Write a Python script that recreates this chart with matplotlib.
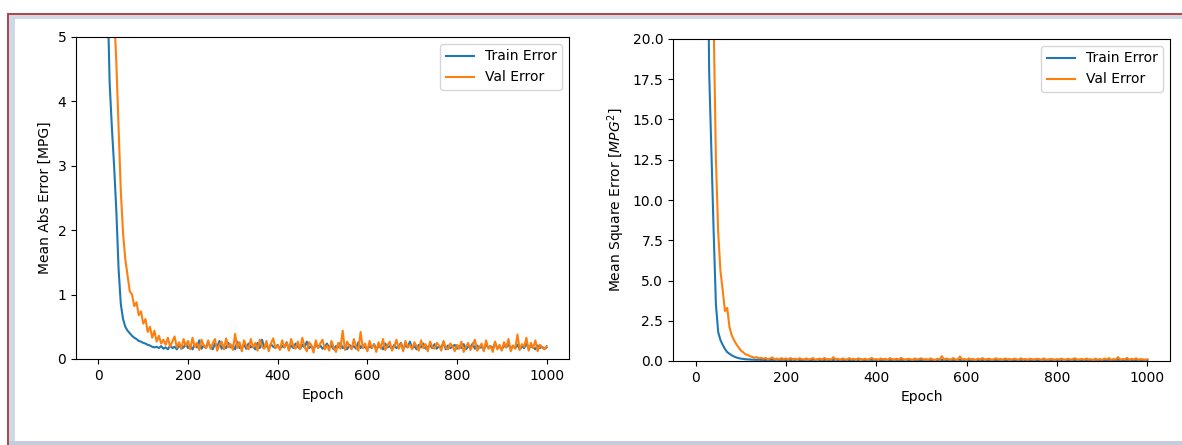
"""
Training history: mean abs error and mean square error per epoch
"""

import matplotlib
matplotlib.use('Agg')
import matplotlib.pyplot as plt
from matplotlib.patches import Rectangle

# epochs, sampled every 5
epochs = list(range(0, 1001, 5))

# mean abs error [MPG]
mae_train = [
    22.0, 19.0, 14.0, 9.5, 5.8, 4.3, 3.6, 3.0, 2.3, 1.4,
    0.85, 0.62, 0.50, 0.44, 0.40, 0.36, 0.33, 0.31, 0.28, 0.27,
    0.25, 0.24, 0.22, 0.21, 0.19, 0.18, 0.19, 0.17, 0.20, 0.16,
    0.18, 0.15, 0.21, 0.17, 0.19, 0.15, 0.22, 0.16, 0.18, 0.24,
    0.17, 0.20, 0.15, 0.23, 0.18, 0.29, 0.16, 0.21, 0.17, 0.26,
    0.19, 0.15, 0.24, 0.18, 0.28, 0.16, 0.20, 0.17, 0.25, 0.18,
    0.21, 0.15, 0.27, 0.17, 0.19, 0.22, 0.16, 0.24, 0.18, 0.20,
    0.15, 0.25, 0.17, 0.30, 0.18, 0.21, 0.16, 0.23, 0.19, 0.17,
    0.22, 0.16, 0.20, 0.18, 0.26, 0.15, 0.21, 0.17, 0.24, 0.19,
    0.16, 0.22, 0.18, 0.27, 0.17, 0.20, 0.15, 0.23, 0.18, 0.21,
    0.16, 0.19, 0.24, 0.17, 0.21, 0.15, 0.20, 0.18, 0.25, 0.17,
    0.19, 0.15, 0.22, 0.18, 0.20, 0.16, 0.26, 0.17, 0.21, 0.18,
    0.15, 0.20, 0.17, 0.23, 0.16, 0.19, 0.21, 0.15, 0.24, 0.18,
    0.20, 0.16, 0.22, 0.17, 0.19, 0.25, 0.16, 0.21, 0.18, 0.27,
    0.17, 0.20, 0.15, 0.22, 0.18, 0.24, 0.16, 0.19, 0.21, 0.17,
    0.23, 0.16, 0.20, 0.18, 0.26, 0.15, 0.21, 0.17, 0.19, 0.22,
    0.16, 0.20, 0.17, 0.23, 0.15, 0.19, 0.18, 0.24, 0.16, 0.21,
    0.17, 0.19, 0.15, 0.22, 0.18, 0.20, 0.16, 0.25, 0.17, 0.19,
    0.15, 0.21, 0.18, 0.23, 0.16, 0.20, 0.17, 0.22, 0.15, 0.19,
    0.17, 0.24, 0.16, 0.20, 0.18, 0.15, 0.21, 0.17, 0.19, 0.16, 0.18,
]
mae_val = [
    26.0, 23.0, 18.5, 14.0, 10.0, 8.0, 6.5, 5.4, 4.6, 3.6,
    2.6, 1.95, 1.55, 1.30, 1.05, 1.0, 0.82, 0.88, 0.68, 0.74,
    0.55, 0.62, 0.42, 0.50, 0.33, 0.44, 0.27, 0.36, 0.24, 0.30,
    0.22, 0.33, 0.19, 0.27, 0.35, 0.18, 0.26, 0.16, 0.31, 0.20,
    0.28, 0.15, 0.33, 0.19, 0.25, 0.14, 0.30, 0.21, 0.17, 0.29,
    0.16, 0.24, 0.31, 0.13, 0.22, 0.27, 0.15, 0.32, 0.18, 0.23,
    0.14, 0.39, 0.17, 0.26, 0.12, 0.29, 0.20, 0.15, 0.31, 0.18,
    0.25, 0.13, 0.30, 0.19, 0.16, 0.28, 0.12, 0.24, 0.32, 0.17,
    0.21, 0.14, 0.29, 0.18, 0.25, 0.13, 0.31, 0.20, 0.16, 0.27,
    0.15, 0.33, 0.19, 0.12, 0.26, 0.22, 0.10, 0.29, 0.17, 0.24,
    0.30, 0.15, 0.21, 0.13, 0.28, 0.18, 0.11, 0.25, 0.16, 0.44,
    0.14, 0.27, 0.20, 0.15, 0.31, 0.19, 0.13, 0.42, 0.17, 0.24,
    0.12, 0.28, 0.18, 0.22, 0.11, 0.26, 0.16, 0.31, 0.14, 0.21,
    0.27, 0.13, 0.19, 0.30, 0.16, 0.24, 0.12, 0.28, 0.18, 0.22,
    0.15, 0.26, 0.20, 0.13, 0.29, 0.17, 0.23, 0.12, 0.27, 0.19,
    0.16, 0.25, 0.21, 0.13, 0.28, 0.18, 0.15, 0.24, 0.20, 0.12,
    0.22, 0.16, 0.27, 0.11, 0.19, 0.25, 0.14, 0.21, 0.30, 0.13,
    0.18, 0.24, 0.12, 0.29, 0.16, 0.20, 0.11, 0.27, 0.15, 0.22,
    0.13, 0.26, 0.18, 0.31, 0.12, 0.21, 0.16, 0.38, 0.14, 0.23,
    0.19, 0.33, 0.13, 0.25, 0.17, 0.29, 0.12, 0.22, 0.18, 0.15, 0.20,
]

# mean square error [MPG^2]
mse_train = [
    560, 470, 320, 160, 65, 32, 18, 13, 8.0, 3.5,
    1.8, 1.3, 1.0, 0.75, 0.55, 0.45, 0.35, 0.28, 0.22, 0.18,
    0.15, 0.13, 0.11, 0.10, 0.09, 0.085, 0.08, 0.075, 0.08, 0.07,
    0.07, 0.06, 0.08, 0.065, 0.075, 0.06, 0.09, 0.065, 0.07, 0.08,
    0.06, 0.075, 0.055, 0.085, 0.065, 0.10, 0.06, 0.07, 0.06, 0.09,
    0.065, 0.055, 0.08, 0.06, 0.095, 0.06, 0.07, 0.06, 0.085, 0.065,
    0.07, 0.055, 0.09, 0.06, 0.065, 0.075, 0.055, 0.08, 0.06, 0.07,
    0.055, 0.085, 0.06, 0.10, 0.065, 0.07, 0.055, 0.08, 0.065, 0.06,
    0.075, 0.055, 0.07, 0.06, 0.09, 0.05, 0.07, 0.06, 0.08, 0.065,
    0.055, 0.075, 0.06, 0.09, 0.06, 0.07, 0.05, 0.08, 0.06, 0.07,
    0.055, 0.065, 0.08, 0.06, 0.07, 0.05, 0.07, 0.06, 0.085, 0.06,
    0.065, 0.05, 0.075, 0.06, 0.07, 0.055, 0.09, 0.06, 0.07, 0.06,
    0.05, 0.07, 0.06, 0.08, 0.055, 0.065, 0.07, 0.05, 0.08, 0.06,
    0.07, 0.055, 0.075, 0.06, 0.065, 0.085, 0.055, 0.07, 0.06, 0.09,
    0.06, 0.07, 0.05, 0.075, 0.06, 0.08, 0.055, 0.065, 0.07, 0.06,
    0.08, 0.055, 0.07, 0.06, 0.09, 0.05, 0.07, 0.06, 0.065, 0.075,
    0.055, 0.07, 0.06, 0.08, 0.05, 0.065, 0.06, 0.08, 0.055, 0.07,
    0.06, 0.065, 0.05, 0.075, 0.06, 0.07, 0.055, 0.085, 0.06, 0.065,
    0.05, 0.07, 0.06, 0.08, 0.055, 0.07, 0.06, 0.075, 0.05, 0.065,
    0.06, 0.08, 0.055, 0.07, 0.06, 0.05, 0.07, 0.06, 0.065, 0.055, 0.06,
]
mse_val = [
    720, 610, 460, 310, 185, 105, 62, 36, 21, 12.5,
    8.0, 5.6, 4.4, 3.1, 3.3, 2.1, 1.6, 1.3, 1.05, 0.85,
    0.65, 0.55, 0.42, 0.38, 0.30, 0.26, 0.21, 0.24, 0.17, 0.20,
    0.14, 0.19, 0.11, 0.16, 0.22, 0.10, 0.15, 0.09, 0.18, 0.11,
    0.16, 0.08, 0.19, 0.10, 0.14, 0.08, 0.17, 0.12, 0.09, 0.16,
    0.09, 0.13, 0.18, 0.07, 0.12, 0.15, 0.08, 0.19, 0.10, 0.13,
    0.08, 0.24, 0.09, 0.14, 0.07, 0.16, 0.11, 0.08, 0.18, 0.10,
    0.14, 0.07, 0.17, 0.10, 0.09, 0.15, 0.07, 0.13, 0.19, 0.09,
    0.12, 0.08, 0.16, 0.10, 0.14, 0.07, 0.18, 0.11, 0.09, 0.15,
    0.08, 0.20, 0.10, 0.07, 0.14, 0.12, 0.06, 0.16, 0.09, 0.13,
    0.17, 0.08, 0.12, 0.07, 0.16, 0.10, 0.06, 0.14, 0.09, 0.30,
    0.08, 0.15, 0.11, 0.08, 0.18, 0.10, 0.07, 0.28, 0.09, 0.13,
    0.07, 0.16, 0.10, 0.12, 0.06, 0.15, 0.09, 0.18, 0.08, 0.12,
    0.15, 0.07, 0.10, 0.17, 0.09, 0.13, 0.07, 0.16, 0.10, 0.12,
    0.08, 0.15, 0.11, 0.07, 0.17, 0.09, 0.13, 0.07, 0.15, 0.10,
    0.09, 0.14, 0.12, 0.07, 0.16, 0.10, 0.08, 0.13, 0.11, 0.07,
    0.12, 0.09, 0.15, 0.06, 0.10, 0.14, 0.08, 0.12, 0.17, 0.07,
    0.10, 0.13, 0.07, 0.16, 0.09, 0.11, 0.06, 0.15, 0.08, 0.12,
    0.07, 0.15, 0.10, 0.18, 0.07, 0.12, 0.09, 0.24, 0.08, 0.13,
    0.10, 0.20, 0.07, 0.14, 0.09, 0.17, 0.07, 0.12, 0.10, 0.08, 0.11,
]

W, H = 1182, 445
fig = plt.figure(figsize=(W / 100, H / 100), dpi=100)

# screenshot window frame
def px_rect(x, y, w, h, color):
    fig.add_artist(Rectangle((x / W, 1 - (y + h) / H), w / W, h / H,
                             transform=fig.transFigure, color=color, lw=0, zorder=-5))

px_rect(8, 15, W - 8, 4, '#cfd9e6')
px_rect(9, 15, 6, H - 15, '#cfd9e6')
px_rect(9, 441, W - 9, 4, '#c3cddc')
px_rect(7, 13, W - 7, 2, '#b5474b')
px_rect(7, 13, 2, H - 13, '#b5474b')

# 1. mean abs error
ax1 = fig.add_axes([76 / W, 1 - 359 / H, 493 / W, 322 / H])
ax1.plot(epochs, mae_train, label='Train Error')
ax1.plot(epochs, mae_val, label='Val Error')
ax1.set_xlim(-50, 1050)
ax1.set_ylim(0, 5)
ax1.set_xlabel('Epoch')
ax1.set_ylabel('Mean Abs Error [MPG]')
ax1.legend(loc='upper right')

# 2. mean square error
ax2 = fig.add_axes([673 / W, 1 - 361 / H, 497 / W, 322 / H])
ax2.plot(epochs, mse_train, label='Train Error')
ax2.plot(epochs, mse_val, label='Val Error')
ax2.set_xlim(-50, 1050)
ax2.set_ylim(0, 20)
ax2.set_xlabel('Epoch')
ax2.set_ylabel('Mean Square Error [$MPG^2$]')
ax2.legend(loc='upper right')

fig.savefig('out.png', dpi=100)
